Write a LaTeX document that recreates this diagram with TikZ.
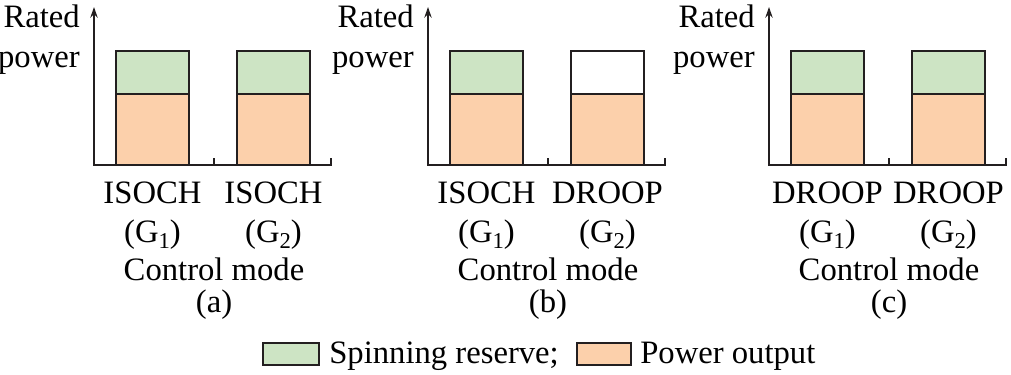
\documentclass[tikz,border=0pt]{standalone}
\usepackage{fontspec}
\setmainfont{Liberation Serif}
\usetikzlibrary{arrows.meta}

\definecolor{reservegreen}{RGB}{205,228,196}
\definecolor{outputorange}{RGB}{252,208,171}
\definecolor{edgegray}{RGB}{35,31,32}

\newcommand{\gensub}[1]{\raisebox{-4.5pt}{\fontsize{17}{17}\selectfont #1}}

\tikzset{
  axisline/.style={draw=edgegray, line width=1.4pt},
  barbox/.style={draw=edgegray, line width=1.4pt},
  label/.style={inner sep=0pt, anchor=base},
}

\begin{document}
\begin{tikzpicture}[x=0.75pt, y=-0.75pt, node font=\fontsize{24.5}{29}\selectfont]
  \useasboundingbox (0,0) rectangle (1011,375);
  % three panels: origin x, mode G1, mode G2, reserve fill of G2, tag
  \foreach \ox/\ma/\mb/\fb/\tag in {94/ISOCH/ISOCH/reservegreen/a,
                                   428/ISOCH/DROOP/white/b,
                                   769/DROOP/DROOP/reservegreen/c} {
    % axes
    \draw[axisline, arrows={Stealth[length=8pt, width=5.5pt]-}]
      (\ox,7) -- (\ox,165) -- (\ox+237,165) -- ++(0,-7);
    \draw[axisline] (\ox+120,165) -- ++(0,-7);
    % bars
    \draw[barbox, fill=outputorange] (\ox+22,94) rectangle (\ox+95,165);
    \draw[barbox, fill=reservegreen] (\ox+22,51) rectangle (\ox+95,94);
    \draw[barbox, fill=outputorange] (\ox+143,94) rectangle (\ox+216,165);
    \draw[barbox, fill=\fb] (\ox+143,51) rectangle (\ox+216,94);
    % texts
    \node[label, anchor=base east] (rated-\tag) at (\ox-14,27) {Rated};
    \node[label, anchor=base east] (power-\tag) at (\ox-14,67) {power};
    \node[label] (mode1-\tag) at (\ox+58.5,203) {\ma};
    \node[label] (mode2-\tag) at (\ox+179.5,203) {\mb};
    \node[label] (gen1-\tag) at (\ox+58.5,242) {(G\gensub{1})};
    \node[label] (gen2-\tag) at (\ox+179.5,242) {(G\gensub{2})};
    \node[label] (ctrl-\tag) at (\ox+120,280) {Control mode};
    \node[label] (tag-\tag) at (\ox+120,312) {(\tag)};
  }
  % legend
  \draw[barbox, fill=reservegreen] (263,343) rectangle (319,365);
  \node[label, anchor=base west] (spin) at (329,363) {Spinning reserve;};
  \draw[barbox, fill=outputorange] (577,343) rectangle (631,365);
  \node[label, anchor=base west] (out) at (640,363) {Power output};
\end{tikzpicture}
\end{document}
